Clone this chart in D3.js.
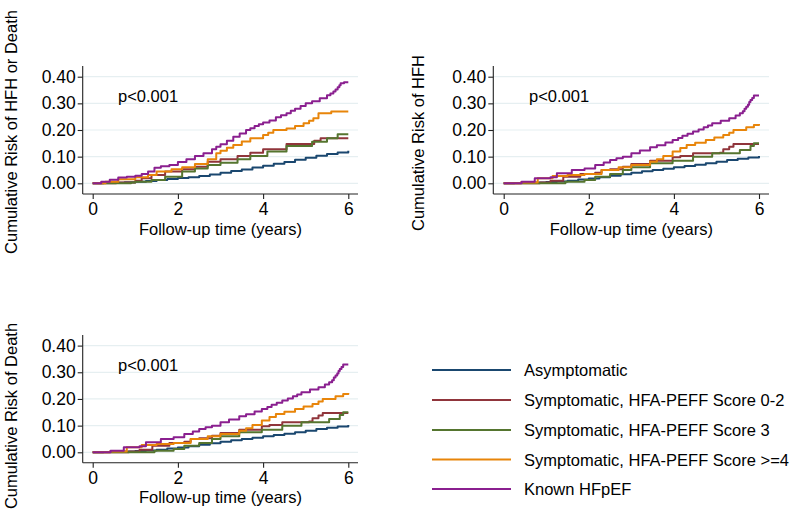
<!DOCTYPE html>
<html>
<head>
<meta charset="utf-8">
<script src="https://cdn.jsdelivr.net/npm/d3@7"></script>
<style>
  body { margin: 0; background: #fff; }
  text { font-family: "Liberation Sans", Arial, Helvetica, sans-serif; fill: #000; }
</style>
</head>
<body>
<div class="chart"></div>
<script>
// series names and colours (legend order)
var seriesNames = ["Asymptomatic", "Symptomatic, HFA-PEFF Score 0-2", "Symptomatic, HFA-PEFF Score 3",
  "Symptomatic, HFA-PEFF Score >=4", "Known HFpEF"];
var seriesColors = ["#1a476f", "#90353b", "#55752f", "#e8850a", "#8a1f8f"];

var xTicks = [0, 2, 4, 6];
var yTicks = [0, 0.1, 0.2, 0.3, 0.4];

// HFH or death, [years, cumulative risk]
var hfhDeathAsym = [[0,0],[0.25,0.001],[0.5,0.002],[0.75,0.004],[1,0.006],[1.25,0.009],[1.5,0.012],[1.75,0.016],[2,0.02],[2.25,0.023],[2.5,0.027],[2.75,0.033],[3,0.04],[3.25,0.046],[3.5,0.052],[3.75,0.059],[4,0.066],[4.25,0.073],[4.5,0.08],[4.75,0.088],[5,0.096],[5.25,0.103],[5.5,0.11],[5.75,0.116],[6,0.1225]];
var hfhDeathLow = [[0,0],[0.55,0.003],[1,0.01],[1.15,0.019],[1.38,0.031],[1.7,0.044],[2.1,0.0525],[2.4,0.0625],[2.7,0.081],[3,0.09],[3.4,0.1025],[3.7,0.115],[4,0.1275],[4.55,0.1475],[5.2,0.16],[5.35,0.169],[6,0.169]];
var hfhDeathMid = [[0,0],[0.9,0.003],[1,0.006],[1.38,0.0125],[1.7,0.025],[2.1,0.044],[2.4,0.056],[2.7,0.069],[3,0.0775],[3.4,0.09],[3.7,0.1025],[4.1,0.119],[4.55,0.14],[5.15,0.156],[5.5,0.169],[5.75,0.184],[6,0.184]];
var hfhDeathHigh = [[0,0],[0.3,0.006],[0.6,0.015],[1,0.0225],[1.3,0.031],[1.5,0.044],[1.85,0.0525],[2.1,0.06],[2.4,0.0725],[2.7,0.09],[2.9,0.1125],[3,0.1225],[3.15,0.133],[3.3,0.144],[3.5,0.157],[3.7,0.169],[4,0.181],[4.12,0.19],[4.24,0.2],[4.55,0.206],[4.75,0.215],[4.95,0.225],[5.08,0.235],[5.18,0.244],[5.3,0.2625],[5.6,0.269],[6,0.269]];
var hfhDeathKnown = [[0,0],[0.2,0.006],[0.4,0.013],[0.6,0.022],[0.8,0.025],[1,0.028],[1.15,0.035],[1.3,0.044],[1.45,0.058],[1.6,0.064],[1.8,0.069],[2,0.08],[2.2,0.09],[2.4,0.1025],[2.6,0.113],[2.8,0.1275],[2.9,0.137],[3,0.147],[3.15,0.16],[3.3,0.175],[3.45,0.187],[3.6,0.2],[3.7,0.207],[3.8,0.215],[3.9,0.222],[4,0.228],[4.15,0.236],[4.3,0.248],[4.42,0.255],[4.55,0.263],[4.65,0.272],[4.75,0.28],[4.88,0.29],[5,0.3],[5.15,0.308],[5.33,0.319],[5.5,0.33],[5.58,0.337],[5.65,0.344],[5.7,0.352],[5.75,0.36],[5.79,0.368],[5.82,0.375],[5.9,0.379],[6,0.379]];

// HFH
var hfhAsym = [[0,0],[0.25,0.001],[0.5,0.002],[0.75,0.003],[1,0.005],[1.25,0.007],[1.5,0.01],[1.75,0.014],[2,0.018],[2.25,0.023],[2.5,0.028],[2.75,0.034],[3,0.04],[3.25,0.045],[3.5,0.05],[3.75,0.055],[4,0.06],[4.25,0.065],[4.5,0.07],[4.75,0.075],[5,0.081],[5.25,0.087],[5.5,0.092],[5.75,0.097],[6,0.1025]];
var hfhLow = [[0,0],[0.85,0.003],[1.1,0.01],[1.4,0.025],[1.8,0.035],[2.15,0.04],[2.3,0.05],[2.5,0.0525],[2.8,0.0625],[3,0.0725],[3.44,0.085],[3.97,0.0975],[4.15,0.1025],[4.45,0.1125],[5.08,0.115],[5.16,0.1275],[5.3,0.1375],[5.4,0.1475],[6,0.1475]];
var hfhMid = [[0,0],[1.45,0.006],[1.9,0.0125],[2.15,0.025],[2.5,0.035],[2.8,0.05],[3,0.06],[3.44,0.075],[3.97,0.085],[4.45,0.1],[4.9,0.1125],[5.55,0.125],[5.8,0.14],[5.88,0.15],[6,0.15]];
var hfhHigh = [[0,0],[0.4,0.003],[0.8,0.019],[1.15,0.0275],[1.5,0.031],[1.9,0.035],[2.3,0.05],[2.7,0.06],[3,0.069],[3.44,0.081],[3.6,0.09],[3.75,0.1025],[3.97,0.119],[4.15,0.132],[4.3,0.144],[4.5,0.152],[4.75,0.1625],[4.95,0.172],[5.16,0.181],[5.3,0.19],[5.4,0.2],[5.7,0.21],[5.88,0.219],[6,0.2225]];
var hfhKnown = [[0,0],[0.42,0.006],[0.73,0.019],[1.1,0.0225],[1.25,0.0375],[1.6,0.05],[1.9,0.056],[2.15,0.069],[2.35,0.078],[2.5,0.0875],[2.65,0.094],[2.8,0.1],[3,0.1125],[3.2,0.123],[3.44,0.135],[3.6,0.143],[3.8,0.153],[3.97,0.1625],[4.1,0.17],[4.2,0.178],[4.32,0.186],[4.45,0.194],[4.58,0.202],[4.7,0.21],[4.8,0.217],[4.9,0.225],[5.1,0.235],[5.3,0.244],[5.45,0.254],[5.55,0.2625],[5.62,0.27],[5.66,0.28],[5.7,0.2875],[5.74,0.295],[5.77,0.305],[5.8,0.3125],[5.84,0.32],[5.88,0.329],[6,0.329]];

// Death (the published figure shows the same curves as the HFH panel)
var deathAsym = hfhAsym;
var deathLow = hfhLow;
var deathMid = hfhMid;
var deathHigh = hfhHigh;
var deathKnown = hfhKnown;

var svgWidth = 800;
var svgHeight = 524;

var svg = d3.select(".chart")
  .append("svg")
  .attr("width", svgWidth)
  .attr("height", svgHeight);

svg.append("rect")
  .attr("width", svgWidth)
  .attr("height", svgHeight)
  .attr("fill", "#fff");

// one Kaplan-Meier style panel
function drawPanel(p) {
  var xScale = d3.scaleLinear().domain([0, 6]).range([p.x0, p.x1]);
  var yScale = d3.scaleLinear().domain([0, 0.4]).range([p.y0, p.y1]);

  var g = svg.append("g");

  // gridlines
  g.selectAll(".grid")
    .data(yTicks)
    .enter()
    .append("line")
    .attr("x1", p.axisX)
    .attr("x2", p.gridEnd)
    .attr("y1", d => yScale(d))
    .attr("y2", d => yScale(d))
    .attr("stroke", "#e6eff1")
    .attr("stroke-width", 1.2);

  // axes
  var leftAxis = d3.axisLeft(yScale)
    .tickValues(yTicks)
    .tickFormat(d3.format(".2f"))
    .tickSize(5)
    .tickPadding(2);
  var bottomAxis = d3.axisBottom(xScale)
    .tickValues(xTicks)
    .tickFormat(d3.format("d"))
    .tickSize(5)
    .tickPadding(4);

  var yAxis = g.append("g")
    .attr("transform", `translate(${p.axisX}, 0)`)
    .call(leftAxis);
  yAxis.select(".domain").attr("d", `M0,${p.axisTop}V${p.axisY}`);

  var xAxis = g.append("g")
    .attr("transform", `translate(0, ${p.axisY})`)
    .call(bottomAxis);
  xAxis.select(".domain").attr("d", `M${p.axisX},0H${p.gridEnd}`);

  g.selectAll(".domain, .tick line")
    .attr("stroke", "#222")
    .attr("stroke-width", 1.1);
  g.selectAll(".tick text")
    .attr("font-size", "17.5px")
    .attr("font-family", "Liberation Sans, Arial, sans-serif")
    .attr("fill", "#000");

  // curves
  var line = d3.line()
    .x(d => xScale(d[0]))
    .y(d => yScale(d[1]))
    .curve(d3.curveStepAfter);

  g.selectAll(".curve")
    .data(p.series)
    .enter()
    .append("path")
    .attr("d", d => line(d))
    .attr("fill", "none")
    .attr("stroke", (d, i) => seriesColors[i])
    .attr("stroke-width", 2)
    .attr("stroke-linejoin", "round");

  // p value
  g.append("text")
    .attr("x", p.pX)
    .attr("y", p.pY)
    .attr("font-size", "16.5px")
    .text("p<0.001");

  // x axis title
  g.append("text")
    .attr("x", (p.x0 + p.x1) / 2)
    .attr("y", p.xTitleY)
    .attr("text-anchor", "middle")
    .attr("font-size", "16.5px")
    .text("Follow-up time (years)");

  // y axis title
  g.append("text")
    .attr("transform", `translate(${p.yTitleX}, ${p.yTitleY}) rotate(-90)`)
    .attr("text-anchor", "middle")
    .attr("font-size", "16.5px")
    .text(p.yTitle);
}

drawPanel({
  x0: 92.7, x1: 348.3, y0: 183.3, y1: 76.7,
  axisX: 82.7, axisY: 194, axisTop: 66, gridEnd: 358,
  pX: 118, pY: 102, xTitleY: 235,
  yTitleX: 16.5, yTitleY: 132,
  yTitle: "Cumulative Risk of HFH or Death",
  series: [hfhDeathAsym, hfhDeathLow, hfhDeathMid, hfhDeathHigh, hfhDeathKnown]
});

drawPanel({
  x0: 503.7, x1: 759, y0: 183.3, y1: 76.7,
  axisX: 493.3, axisY: 194, axisTop: 66, gridEnd: 769,
  pX: 529, pY: 102, xTitleY: 235,
  yTitleX: 424, yTitleY: 143,
  yTitle: "Cumulative Risk of HFH",
  series: [hfhAsym, hfhLow, hfhMid, hfhHigh, hfhKnown]
});

drawPanel({
  x0: 92.7, x1: 348.3, y0: 452.3, y1: 345.6,
  axisX: 82.7, axisY: 462.7, axisTop: 335, gridEnd: 358,
  pX: 118, pY: 371, xTitleY: 503,
  yTitleX: 16.5, yTitleY: 416,
  yTitle: "Cumulative Risk of Death",
  series: [deathAsym, deathLow, deathMid, deathHigh, deathKnown]
});

// legend
var legendRowY = [370, 400, 430, 459.5, 489];
var legend = svg.append("g");

legend.selectAll(".leg-line")
  .data(seriesNames)
  .enter()
  .append("line")
  .attr("x1", 432)
  .attr("x2", 511)
  .attr("y1", (d, i) => legendRowY[i])
  .attr("y2", (d, i) => legendRowY[i])
  .attr("stroke", (d, i) => seriesColors[i])
  .attr("stroke-width", 1.8);

legend.selectAll(".leg-text")
  .data(seriesNames)
  .enter()
  .append("text")
  .attr("x", 524)
  .attr("y", (d, i) => legendRowY[i] + 6)
  .attr("font-size", "16.5px")
  .text(d => d);
</script>
</body>
</html>
